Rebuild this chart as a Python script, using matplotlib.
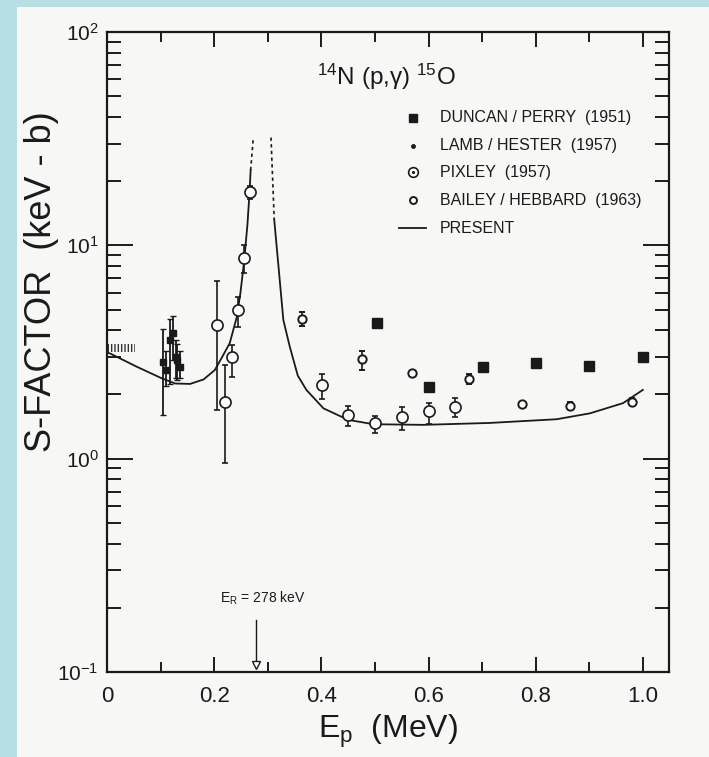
import numpy as np
import matplotlib.pyplot as plt
import matplotlib.patches as mpatches
from matplotlib.ticker import LogLocator, MultipleLocator, NullFormatter

plt.rcParams['font.family'] = ['Liberation Sans', 'DejaVu Sans']
plt.rcParams['mathtext.fontset'] = 'custom'
plt.rcParams['mathtext.rm'] = 'Liberation Sans'
plt.rcParams['mathtext.it'] = 'Liberation Sans'

# data (E in MeV, S in keV-b)
duncan_x = [0.503, 0.601, 0.701, 0.800, 0.900, 1.001]
duncan_s = [4.34, 2.17, 2.70, 2.82, 2.72, 2.99]

lamb_x = [0.104, 0.110, 0.118, 0.124, 0.128, 0.131, 0.137]
lamb_s = [2.85, 2.60, 3.60, 3.90, 3.00, 2.90, 2.70]
lamb_lo = [1.60, 2.20, 2.25, 2.90, 2.40, 2.34, 2.38]
lamb_hi = [4.05, 3.20, 4.50, 4.65, 3.60, 3.45, 3.20]

pix_x = [0.205, 0.221, 0.234, 0.245, 0.256, 0.266, 0.402, 0.450, 0.500, 0.550, 0.600, 0.649]
pix_s = [4.24, 1.85, 2.99, 4.98, 8.70, 17.8, 2.21, 1.61, 1.47, 1.57, 1.68, 1.75]
pix_lo = [1.69, 0.95, 2.42, 4.16, 7.40, 16.5, 1.91, 1.42, 1.32, 1.36, 1.46, 1.57]
pix_hi = [6.80, 2.75, 3.42, 5.74, 10.0, 19.0, 2.49, 1.77, 1.58, 1.74, 1.83, 1.92]

bai_x = [0.363, 0.476, 0.570, 0.675, 0.774, 0.864, 0.979]
bai_s = [4.50, 2.93, 2.51, 2.37, 1.80, 1.77, 1.85]
bai_lo = [4.20, 2.60, 2.45, 2.25, 1.80, 1.70, 1.78]
bai_hi = [4.85, 3.20, 2.57, 2.48, 1.80, 1.85, 1.92]

# present fit, two branches around the 278 keV resonance
fitL_x = [0.0, 0.007, 0.055, 0.102, 0.127, 0.155, 0.180, 0.201, 0.215, 0.229, 0.242, 0.249, 0.256, 0.262, 0.266, 0.268]
fitL_s = [3.15, 3.10, 2.70, 2.38, 2.25, 2.24, 2.35, 2.60, 3.00, 3.48, 4.60, 6.00, 8.50, 12.5, 17.8, 22.5]
fitL_dash_x = [0.268, 0.273]
fitL_dash_s = [22.5, 32.0]
fitR_dash_x = [0.306, 0.312]
fitR_dash_s = [32.0, 13.2]
fitR_x = [0.312, 0.3205, 0.329, 0.341, 0.356, 0.372, 0.404, 0.450, 0.497, 0.590, 0.714, 0.839, 0.901, 0.963, 1.000]
fitR_s = [13.2, 7.70, 4.47, 3.35, 2.45, 2.10, 1.72, 1.52, 1.45, 1.44, 1.47, 1.53, 1.63, 1.82, 2.10]

# extrapolated S(0) band
band_x = [0.0, 0.052]
band_lo = [3.15, 3.15]
band_hi = [3.45, 3.45]

e_res = 0.278

fig = plt.figure(figsize=(7.09, 7.57), dpi=100)
fig.patch.set_facecolor('#b7dfe3')
fig.add_artist(mpatches.Rectangle((17 / 709, 0), 1, 1 - 7 / 757, transform=fig.transFigure,
                                  facecolor='#f7f8f6', edgecolor='none', zorder=-10))
ax = fig.add_axes([0.151, 0.1123, 0.7927, 0.8455])
ax.set_facecolor('none')

ink = '#1a1a1a'
ax.set_yscale('log')
ax.set_xlim(0, 1.049)
ax.set_ylim(0.1, 100)

ax.plot(fitL_x, fitL_s, color=ink, lw=1.3)
ax.plot(fitR_x, fitR_s, color=ink, lw=1.3)
ax.plot(fitL_dash_x, fitL_dash_s, color=ink, lw=1.2, ls=(0, (2, 2)))
ax.plot(fitR_dash_x, fitR_dash_s, color=ink, lw=1.2, ls=(0, (2, 2)))
plt.rcParams['hatch.linewidth'] = 1.0
ax.fill_between(band_x, band_lo, band_hi, facecolor='none', edgecolor='#333333', hatch='|||||', lw=0)

ax.plot(duncan_x, duncan_s, 's', color=ink, ms=7)

ax.errorbar(lamb_x, lamb_s, yerr=[np.subtract(lamb_s, lamb_lo), np.subtract(lamb_hi, lamb_s)],
            fmt='s', ms=4, color=ink, ecolor=ink, elinewidth=1.3, capsize=2)

ax.errorbar(pix_x, pix_s, yerr=[np.subtract(pix_s, pix_lo), np.subtract(pix_hi, pix_s)],
            fmt='o', ms=8, mfc='white', mec=ink, mew=1.2, color=ink, ecolor=ink,
            elinewidth=1.2, capsize=2.5)
ax.plot(pix_x, pix_s, '.', color=ink, ms=3)

ax.errorbar(bai_x, bai_s, yerr=[np.subtract(bai_s, bai_lo), np.subtract(bai_hi, bai_s)],
            fmt='o', ms=6, mfc='white', mec=ink, mew=1.4, color=ink, ecolor=ink,
            elinewidth=1.2, capsize=2)

# resonance marker
ax.plot([e_res, e_res], [0.175, 0.108], color=ink, lw=1.0)
ax.plot([e_res], [0.108], 'v', ms=6, mfc='white', mec=ink, mew=1.0, clip_on=False)
ax.text(e_res + 0.012, 0.222, r'E$_{\mathregular{R}}$ = 278 keV', ha='center', va='center',
        fontsize=10, color=ink)

ax.text(0.497, 0.93, r'$^{\mathregular{14}}$N (p,γ) $^{\mathregular{15}}$O', transform=ax.transAxes,
        ha='center', va='center', fontsize=17.5, color=ink)

# hand drawn legend
rows = [0.866, 0.822, 0.781, 0.737, 0.693]
labels = ['DUNCAN / PERRY  (1951)', 'LAMB / HESTER  (1957)', 'PIXLEY  (1957)',
          'BAILEY / HEBBARD  (1963)', 'PRESENT']
mx, tx = 0.545, 0.592
ax.plot([mx], [rows[0]], 's', color=ink, ms=6, transform=ax.transAxes)
ax.plot([mx], [rows[1]], '.', color=ink, ms=5, transform=ax.transAxes)
ax.plot([mx], [rows[2]], 'o', mfc='white', mec=ink, mew=1.2, ms=7, transform=ax.transAxes)
ax.plot([mx], [rows[2]], '.', color=ink, ms=2.5, transform=ax.transAxes)
ax.plot([mx], [rows[3]], 'o', mfc='white', mec=ink, mew=1.4, ms=5, transform=ax.transAxes)
ax.plot([0.520, 0.568], [rows[4], rows[4]], color=ink, lw=1.3, transform=ax.transAxes)
for r, lab in zip(rows, labels):
    ax.text(tx, r, lab, transform=ax.transAxes, ha='left', va='center', fontsize=11.5, color=ink)

# axes styling
for s in ax.spines.values():
    s.set_linewidth(1.6)
    s.set_color(ink)
ax.xaxis.set_major_locator(MultipleLocator(0.2))
ax.xaxis.set_minor_locator(MultipleLocator(0.1))
ax.xaxis.set_major_formatter(plt.FuncFormatter(lambda v, p: '0' if v == 0 else f'{v:.1f}'))
ax.yaxis.set_major_locator(LogLocator(base=10, numticks=10))
ax.yaxis.set_minor_locator(LogLocator(base=10, subs=np.arange(2, 10), numticks=10))
ax.yaxis.set_minor_formatter(NullFormatter())
ax.tick_params(axis='x', which='major', direction='in', length=11, width=1.4, top=True,
               labelsize=16, pad=10, colors=ink)
ax.tick_params(axis='x', which='minor', direction='in', length=7, width=1.4, top=True, colors=ink)
ax.tick_params(axis='y', which='major', direction='in', length=19, width=1.4, right=True,
               labelsize=15, pad=6, colors=ink)
ax.tick_params(axis='y', which='minor', direction='in', length=10, width=1.4, right=True, colors=ink)

ax.set_ylabel('S-FACTOR  (keV - b)', fontsize=26, color=ink)
ax.yaxis.set_label_coords(-0.086, 0.61)
ax.set_xlabel(r'E$_{\mathregular{p}}$  (MeV)', fontsize=23, color=ink, labelpad=4)

fig.savefig('out.png', dpi=100, facecolor=fig.get_facecolor())
